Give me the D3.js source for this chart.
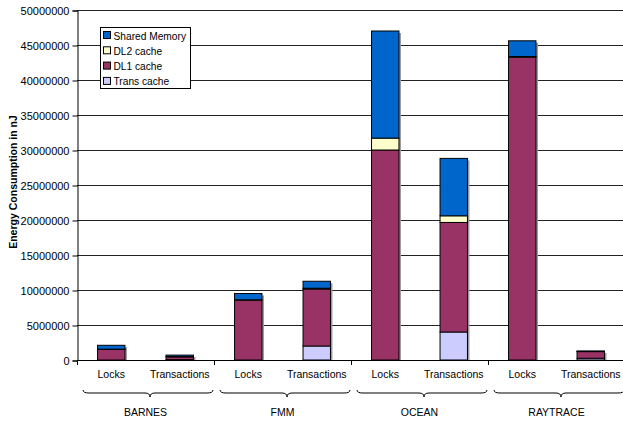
<!DOCTYPE html>
<html>
<head>
<meta charset="utf-8">
<script src="https://cdn.jsdelivr.net/npm/d3@7"></script>
<style>
  body { margin: 0; background: #fff; }
  svg text { font-family: "Liberation Sans", Arial, sans-serif; }
</style>
</head>
<body>
<div id="chart"></div>
<script>
// data (nJ)
const groups = ["BARNES", "FMM", "OCEAN", "RAYTRACE"];
const modes = ["Locks", "Transactions"];
const seriesNames = ["Trans cache", "DL1 cache", "DL2 cache", "Shared Memory"];
const transCache   = [0, 50000, 0, 2000000, 0, 4000000, 0, 250000];
const dl1Cache     = [1500000, 400000, 8550000, 8150000, 30000000, 15650000, 43250000, 950000];
const dl2Cache     = [50000, 50000, 50000, 100000, 1700000, 950000, 100000, 30000];
const sharedMemory = [550000, 200000, 900000, 1000000, 15300000, 8200000, 2250000, 60000];
const yTicks = [0, 5000000, 10000000, 15000000, 20000000, 25000000, 30000000, 35000000, 40000000, 45000000, 50000000];
const colors = ["#CCCCFF", "#993366", "#FFFFCC", "#0066CC"];

const w = 623, h = 423;
const pLeft = 77, pRight = 625, pTop = 10, pBottom = 360;
const font = "Liberation Sans";

const svg = d3.select("#chart").append("svg").attr("width", w).attr("height", h)
  .attr("font-family", font);

const slots = [];
groups.forEach(g => modes.forEach(m => slots.push(g + "|" + m)));

const rows = slots.map((s, i) => ({
  key: s,
  "Trans cache": transCache[i],
  "DL1 cache": dl1Cache[i],
  "DL2 cache": dl2Cache[i],
  "Shared Memory": sharedMemory[i]
}));

const x = d3.scaleBand().domain(slots).range([pLeft, pRight]).paddingInner(0.6).paddingOuter(0.3);
const xSlot = d3.scaleBand().domain(slots).range([pLeft, pRight]);
const y = d3.scaleLinear().domain([0, 50000000]).range([pBottom, pTop]);

// gridlines
svg.append("g").selectAll("line").data(yTicks.slice(1)).enter().append("line")
  .attr("x1", pLeft).attr("x2", w)
  .attr("y1", d => Math.round(y(d)) + 0.5).attr("y2", d => Math.round(y(d)) + 0.5)
  .attr("stroke", "#222").attr("stroke-width", 1);

// y axis
const yAxis = d3.axisLeft(y).tickValues(yTicks).tickSize(5).tickPadding(3).tickFormat(d3.format("d"));
const ya = svg.append("g").attr("transform", "translate(" + (pLeft + 0.5) + ",0.5)").call(yAxis)
  .attr("font-family", font).attr("font-size", 11);
ya.selectAll("text").attr("fill", "#000");
ya.selectAll("line").attr("stroke", "#000");
ya.select(".domain").attr("stroke", "#000");

svg.append("text")
  .attr("text-anchor", "middle")
  .attr("transform", "translate(17," + 182 + ")rotate(-90)")
  .attr("font-size", "10.5px").attr("font-weight", "bold")
  .text("Energy Consumption in nJ");

// stacked bars
const stack = d3.stack().keys(seriesNames)(rows);

// shadows
svg.append("g").selectAll("rect").data(rows).enter().append("rect")
  .attr("x", d => x(d.key) + 2)
  .attr("y", d => y(d3.sum(seriesNames, k => d[k])) + 2)
  .attr("width", x.bandwidth())
  .attr("height", d => pBottom - y(d3.sum(seriesNames, k => d[k])) - 2)
  .attr("fill", "#999");

svg.append("g").selectAll("g").data(stack).enter().append("g")
  .attr("fill", (d, i) => colors[i])
  .selectAll("rect").data(d => d.filter(p => p[1] - p[0] > 0)).enter().append("rect")
  .attr("x", d => x(d.data.key))
  .attr("y", d => y(d[1]))
  .attr("width", x.bandwidth())
  .attr("height", d => y(d[0]) - y(d[1]))
  .attr("stroke", "#000").attr("stroke-width", 1);

// x axis line and slot ticks
svg.append("line").attr("x1", pLeft).attr("x2", w).attr("y1", pBottom + 0.5).attr("y2", pBottom + 0.5).attr("stroke", "#000");
const tickXs = slots.filter((s, i) => i % 2 === 0).map(s => xSlot(s)).concat([pRight]);
svg.append("g").selectAll("line").data(tickXs).enter().append("line")
  .attr("x1", d => Math.round(d) + 0.5).attr("x2", d => Math.round(d) + 0.5)
  .attr("y1", pBottom).attr("y2", pBottom + 5).attr("stroke", "#000");

// category labels
svg.append("g").selectAll("text").data(slots).enter().append("text")
  .attr("x", d => xSlot(d) + xSlot.bandwidth() / 2)
  .attr("y", 378)
  .attr("text-anchor", "middle").attr("font-size", "10.5px")
  .text(d => d.split("|")[1]);

// braces
const brace = (x0, x1, yy) => {
  const m = (x0 + x1) / 2 + 2;
  return "M" + x0 + "," + (yy - 3) +
    " Q" + x0 + "," + yy + " " + (x0 + 6) + "," + yy +
    " L" + (m - 5) + "," + yy +
    " Q" + m + "," + yy + " " + m + "," + (yy + 4) +
    " Q" + m + "," + yy + " " + (m + 5) + "," + yy +
    " L" + (x1 - 6) + "," + yy +
    " Q" + x1 + "," + yy + " " + x1 + "," + (yy - 3);
};
svg.append("g").selectAll("path").data(groups).enter().append("path")
  .attr("d", g => brace(xSlot(g + "|Locks") + 6, xSlot(g + "|Transactions") + xSlot.bandwidth() - 1, 393))
  .attr("fill", "none").attr("stroke", "#000").attr("stroke-width", 1);

svg.append("g").selectAll("text").data(groups).enter().append("text")
  .attr("x", g => xSlot(g + "|Transactions"))
  .attr("y", 416)
  .attr("text-anchor", "middle").attr("font-size", "10.5px")
  .text(g => g);

// legend
const lg = svg.append("g").attr("transform", "translate(100.5,27.5)");
lg.append("rect").attr("width", 90).attr("height", 61).attr("fill", "#fff").attr("stroke", "#000");
const legendOrder = ["Shared Memory", "DL2 cache", "DL1 cache", "Trans cache"];
const li = lg.selectAll("g").data(legendOrder).enter().append("g")
  .attr("transform", (d, i) => "translate(3," + (4 + i * 15.3) + ")");
li.append("rect").attr("width", 7).attr("height", 7)
  .attr("fill", d => colors[seriesNames.indexOf(d)]).attr("stroke", "#000");
li.append("text").attr("x", 10).attr("y", 8).attr("font-size", "10.2px").text(d => d);
</script>
</body>
</html>
